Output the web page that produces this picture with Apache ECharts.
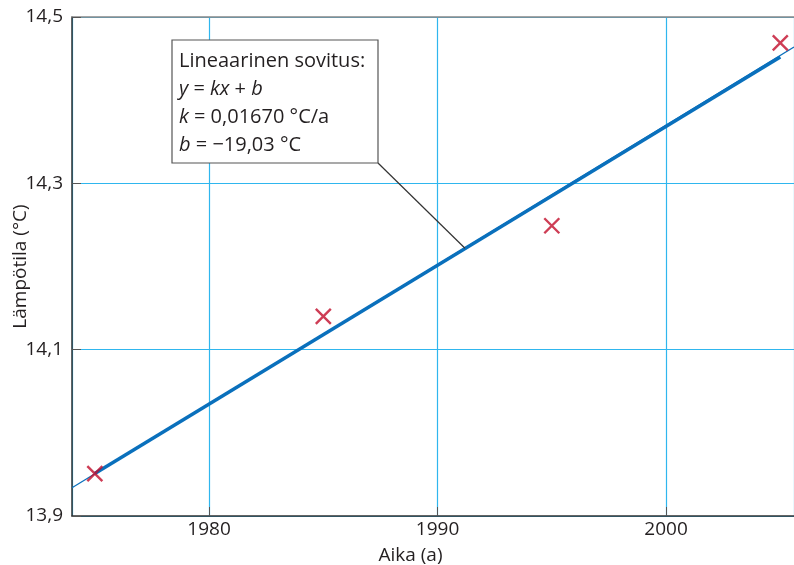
<!DOCTYPE html>
<html>
<head>
<meta charset="utf-8">
<script src="https://cdn.jsdelivr.net/npm/echarts@6/dist/echarts.min.js"></script>
<style>
html, body { margin: 0; padding: 0; background: #fff; }
#chart { width: 794px; height: 565px; }
</style>
</head>
<body>
<div id="chart"></div>
<script>
// measured points (year, temperature)
var years = [1975, 1985, 1995, 2005];
var temps = [13.951, 14.140, 14.249, 14.469];

// fitted line y = kx + b, endpoints
var fitThin = [[1974, 13.934], [2005.6, 14.464]];
var fitThick = [[1975, 13.951], [2005, 14.452]];
// callout target on the fit line
var calloutPoint = [1991.2, 14.222];

var yTicks = [13.9, 14.1, 14.3, 14.5];

var font = 'Open Sans';
var blue = '#0a70bc';
var red = '#c20d2b';
var gridBlue = '#2fb6ee';
var textColor = '#231f20';

var chart = echarts.init(document.getElementById('chart'));

chart.setOption({
  animation: false,
  grid: { left: 72, right: 0, top: 17, bottom: 49, outerBoundsMode: 'none', containLabel: false },
  xAxis: [{
    type: 'value',
    min: 1974,
    max: 2005.6,
    splitNumber: 3,
    name: 'Aika (a)',
    nameLocation: 'middle',
    nameGap: 30,
    nameTextStyle: { fontFamily: font, fontSize: 19, color: textColor, padding: [0, 45, 0, 0] },
    axisLine: { lineStyle: { color: '#333', width: 1.5 } },
    axisTick: { inside: true, length: 9, lineStyle: { color: '#555' } },
    axisLabel: {
      showMinLabel: false, showMaxLabel: false,
      fontFamily: font, fontSize: 19, color: textColor, margin: 4,
      formatter: function (v) { return String(v); }
    },
    splitLine: { show: true, lineStyle: { color: gridBlue, width: 1.2 } }
  }, {
    type: 'value',
    position: 'top',
    min: 1974,
    max: 2005.6,
    axisLine: { show: true, lineStyle: { color: '#888', width: 1.5 } },
    axisTick: { show: false },
    axisLabel: { show: false },
    splitLine: { show: false }
  }],
  yAxis: {
    type: 'value',
    min: yTicks[0],
    max: yTicks[yTicks.length - 1],
    interval: 0.2,
    name: 'Lämpötila (°C)',
    nameLocation: 'middle',
    nameMoveOverlap: false,
    nameGap: 42,
    nameTextStyle: { fontFamily: font, fontSize: 19, color: textColor },
    axisLine: { show: true, lineStyle: { color: '#333', width: 1.5 } },
    axisTick: { show: true, inside: true, length: 9, lineStyle: { color: '#555' } },
    axisLabel: {
      fontFamily: font, fontSize: 19, color: textColor, margin: 9,
      formatter: function (v) { return v.toFixed(1).replace('.', ','); }
    },
    splitLine: { show: true, lineStyle: { color: gridBlue, width: 1.2 } }
  },
  series: [{
    type: 'line',
    data: fitThin,
    symbol: 'none',
    lineStyle: { color: blue, width: 1.3 },
    z: 2
  }, {
    type: 'line',
    data: fitThick,
    symbol: 'none',
    lineStyle: { color: blue, width: 3.5 },
    z: 3
  }, {
    type: 'scatter',
    data: years.map(function (y, i) { return [y, temps[i]]; }),
    symbol: 'path://M0,0L10,10M10,0L0,10',
    symbolSize: 15,
    itemStyle: { color: 'rgba(0,0,0,0)', borderColor: red, borderWidth: 2.4 },
    z: 4
  }]
});

var target = chart.convertToPixel({ gridIndex: 0 }, calloutPoint);
var box = { x: 172, y: 40, w: 206, h: 123 };

chart.setOption({
  graphic: [{
    type: 'line',
    shape: { x1: box.x + box.w, y1: box.y + box.h, x2: target[0], y2: target[1] },
    style: { stroke: '#333', lineWidth: 1.2 },
    z: 10
  }, {
    type: 'rect',
    shape: { x: box.x, y: box.y, width: box.w, height: box.h },
    style: { fill: '#fff', stroke: '#555', lineWidth: 1.2 },
    z: 11
  }, {
    type: 'text',
    left: box.x + 7,
    top: box.y + 7,
    z: 12,
    style: {
      text: 'Lineaarinen sovitus:\n{i|y} = {i|kx} + {i|b}\n{i|k} = 0,01670 °C/a\n{i|b} = −19,03 °C',
      fontFamily: font,
      fontSize: 20,
      lineHeight: 28,
      fill: textColor,
      rich: {
        i: { fontStyle: 'italic', fontFamily: font, fontSize: 20, lineHeight: 28, fill: textColor }
      }
    }
  }]
});
</script>
</body>
</html>
